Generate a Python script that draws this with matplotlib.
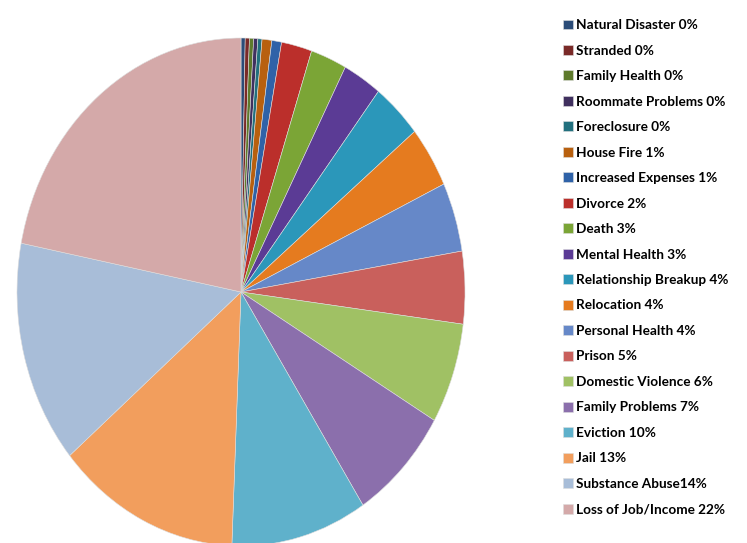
import matplotlib.pyplot as plt

# reasons for homelessness, share of respondents (%)
labels = ['Natural Disaster 0%', 'Stranded 0%', 'Family Health 0%',
          'Roommate Problems 0%', 'Foreclosure 0%', 'House Fire 1%',
          'Increased Expenses 1%', 'Divorce 2%', 'Death 3%',
          'Mental Health 3%', 'Relationship Breakup 4%', 'Relocation 4%',
          'Personal Health 4%', 'Prison 5%', 'Domestic Violence 6%',
          'Family Problems 7%', 'Eviction 10%', 'Jail 13%',
          'Substance Abuse14%', 'Loss of Job/Income 22%']
values = [0.3, 0.3, 0.3, 0.3, 0.3, 0.7, 0.7, 2.2, 2.6, 2.8,
          3.6, 3.9, 4.4, 4.6, 6.4, 7.4, 9.8, 13.2, 14.2, 21.9]
colors = ['#2b4c78', '#7a2a28', '#5e7a2c', '#40305f', '#22707e', '#b8600f',
          '#2f62a8', '#bb2f2b', '#7ba536', '#5b3b95', '#2b97ba', '#e57b1f',
          '#6688c8', '#c9605c', '#a0c164', '#8b6fac', '#5fb1cb', '#f29e5d',
          '#a8bdd8', '#d4a9a9']

fig = plt.figure(figsize=(7.47, 5.43), dpi=100)
W, H = 747, 543

# pie is stretched vertically (ellipse), so use a non-square axes
ax = fig.add_axes([17 / W, (543 - 546) / H, 448 / W, 508 / H])
wedges, _ = ax.pie(values, colors=colors, startangle=90, counterclock=False,
                   wedgeprops=dict(linewidth=0.4, edgecolor='#dddddd'))
ax.set_aspect('auto')
ax.set_xlim(-1, 1)
ax.set_ylim(-1, 1)
ax.axis('off')

fig.legend(wedges, labels, loc='upper left',
           bbox_to_anchor=(551 / W, 1 - 7 / H),
           frameon=False, handlelength=0.75, handleheight=0.75,
           handletextpad=0.2, labelspacing=0.99,
           prop=dict(family='Lato', weight='bold', size=9.8))

fig.savefig('out.png', dpi=100)
